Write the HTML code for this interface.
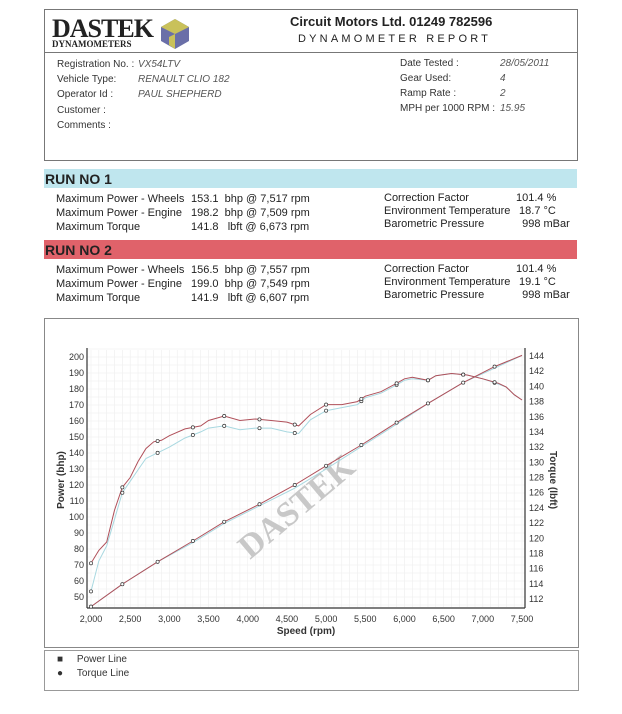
<!DOCTYPE html>
<html><head><meta charset="utf-8">
<style>
body{margin:0;width:622px;height:714px;background:#fff;position:relative;overflow:hidden;font-family:"Liberation Sans",sans-serif;color:#333}
.a{position:absolute;white-space:nowrap}
.s{font-size:10px}
.i{font-style:italic;color:#555}
.r{font-size:11px;color:#222}
</style></head><body>
<div class="a" style="left:44px;top:9px;width:532px;height:150px;border:1px solid #777"></div>
<div class="a" style="left:44px;top:52px;width:533px;border-top:1px solid #777"></div>
<div class="a" style="left:52px;top:16px;font-family:'Liberation Serif',serif;font-weight:bold;font-size:26px;color:#222;letter-spacing:-1px;line-height:26px">DASTEK</div>
<div class="a" style="left:52px;top:39px;font-family:'Liberation Serif',serif;font-weight:bold;font-size:9px;color:#222">DYNAMOMETERS</div>
<svg class="a" style="left:161px;top:19px" width="28" height="30"><polygon points="14,0 28,8 28,22 14,30 0,22 0,8" fill="#6a6fa8"/><polygon points="14,0 28,8 14,15 0,8" fill="#c9c15a"/><polygon points="14,15 14,30 8,26 8,18" fill="#c9c15a"/></svg>
<div class="a" style="left:290px;top:14px;font-size:13px;font-weight:bold;color:#222">Circuit Motors Ltd. 01249 782596</div>
<div class="a" style="left:298px;top:33px;font-size:11px;letter-spacing:3.2px;color:#222">DYNAMOMETER REPORT</div>
<div class="a s" style="left:57px;top:59px">Registration No. :</div>
<div class="a s i" style="left:138px;top:59px">VX54LTV</div>
<div class="a s" style="left:57px;top:74px">Vehicle Type:</div>
<div class="a s i" style="left:138px;top:74px">RENAULT CLIO 182</div>
<div class="a s" style="left:57px;top:89px">Operator Id :</div>
<div class="a s i" style="left:138px;top:89px">PAUL SHEPHERD</div>
<div class="a s" style="left:57px;top:105px">Customer :</div>
<div class="a s" style="left:57px;top:120px">Comments :</div>
<div class="a s" style="left:400px;top:58px">Date Tested :</div>
<div class="a s i" style="left:500px;top:58px">28/05/2011</div>
<div class="a s" style="left:400px;top:73px">Gear Used:</div>
<div class="a s i" style="left:500px;top:73px">4</div>
<div class="a s" style="left:400px;top:88px">Ramp Rate :</div>
<div class="a s i" style="left:500px;top:88px">2</div>
<div class="a s" style="left:400px;top:103px">MPH per 1000 RPM :</div>
<div class="a s i" style="left:500px;top:103px">15.95</div>

<div class="a" style="left:44px;top:169px;width:533px;height:19px;background:#bfe6ee"></div>
<div class="a" style="left:45px;top:171px;font-size:14px;font-weight:bold;color:#222">RUN NO 1</div>
<div class="a r" style="left:56px;top:192px;line-height:14px">Maximum Power - Wheels<br>Maximum Power - Engine<br>Maximum Torque</div>
<div class="a r" style="left:191px;top:192px;line-height:14px">153.1 &nbsp;bhp @ 7,517 rpm<br>198.2 &nbsp;bhp @ 7,509 rpm<br>141.8 &nbsp;&nbsp;lbft @ 6,673 rpm</div>
<div class="a r" style="left:384px;top:192px;line-height:13px">Correction Factor<br>Environment Temperature<br>Barometric Pressure</div>
<div class="a r" style="left:516px;top:192px;line-height:13px">101.4 %<br>&nbsp;18.7 °C<br>&nbsp;&nbsp;998 mBar</div>

<div class="a" style="left:44px;top:240px;width:533px;height:19px;background:#e0626a"></div>
<div class="a" style="left:45px;top:242px;font-size:14px;font-weight:bold;color:#222">RUN NO 2</div>
<div class="a r" style="left:56px;top:263px;line-height:14px">Maximum Power - Wheels<br>Maximum Power - Engine<br>Maximum Torque</div>
<div class="a r" style="left:191px;top:263px;line-height:14px">156.5 &nbsp;bhp @ 7,557 rpm<br>199.0 &nbsp;bhp @ 7,549 rpm<br>141.9 &nbsp;&nbsp;lbft @ 6,607 rpm</div>
<div class="a r" style="left:384px;top:263px;line-height:13px">Correction Factor<br>Environment Temperature<br>Barometric Pressure</div>
<div class="a r" style="left:516px;top:263px;line-height:13px">101.4 %<br>&nbsp;19.1 °C<br>&nbsp;&nbsp;998 mBar</div>

<div class="a" style="left:44px;top:318px;width:533px;height:328px;border:1px solid #888"></div>
<svg class="a" id="chart" style="left:0;top:0" width="622" height="714"></svg>

<div class="a" style="left:44px;top:650px;width:533px;height:39px;border:1px solid #999"></div>
<div class="a" style="left:57px;top:654px;font-size:10px">■&nbsp;&nbsp;&nbsp;&nbsp;&nbsp;Power Line</div>
<div class="a" style="left:57px;top:668px;font-size:10px">●&nbsp;&nbsp;&nbsp;&nbsp;&nbsp;Torque Line</div>

<script>
const rpmTicks=[2000,2500,3000,3500,4000,4500,5000,5500,6000,6500,7000,7500];
const powerTicks=[50,60,70,80,90,100,110,120,130,140,150,160,170,180,190,200];
const torqueTicks=[112,114,116,118,120,122,124,126,128,130,132,134,136,138,140,142,144];
const powerRpm=[2000,2400,2850,3300,3700,4150,4600,5000,5450,5900,6300,6750,7150,7500];
const powerRun2=[44,58,72,85,97,108,120,132,145,159,171,184,194,201];
const powerRun1=[44,58,72,84,96,107,118,130,144,158,171,184,193,201];
const torqueRpm=[2000,2100,2200,2300,2400,2500,2600,2700,2800,2900,3000,3200,3300,3400,3500,3700,3900,4100,4300,4500,4650,4800,5000,5200,5400,5500,5700,5900,6000,6100,6200,6300,6400,6600,6800,7000,7200,7300,7400,7500];
const torqueRun2=[116.7,118.4,119.5,123.7,126.7,128.0,130.1,131.8,132.7,132.9,133.5,134.4,134.6,134.8,135.5,136.1,135.5,135.7,135.5,135.3,134.8,136.3,137.6,137.6,138.0,138.7,139.3,140.4,141.0,141.2,141.0,140.8,141.4,141.7,141.5,141.0,140.4,139.9,138.9,138.2];
const torqueRun1=[113.0,117.0,119.0,122.5,126.0,127.5,129.0,130.5,131.0,131.5,132.0,133.2,133.6,134.0,134.5,134.8,134.3,134.5,134.5,134.0,133.8,135.6,136.8,137.2,137.6,138.5,139.1,140.2,140.8,141.0,140.9,140.8,141.4,141.7,141.5,141.0,140.3,139.9,138.9,138.2];
const markRpm=[2000,2400,2850,3300,3700,4150,4600,5000,5450,5900,6300,6750,7150];

const NS='http://www.w3.org/2000/svg';
const svg=document.getElementById('chart');
const X0=91,X1=522,YB=597,YT=357;
const x=r=>X0+(r-2000)*(X1-X0)/5500;
const yP=p=>YB-(p-50)*(YB-YT)/150;
const yT=t=>599-(t-112)*(599-356)/32;
function mk(tag,at,parent){const e=document.createElementNS(NS,tag);for(const k in at)e.setAttribute(k,at[k]);(parent||svg).appendChild(e);return e;}
function interp(xs,ys,v){for(let i=0;i<xs.length-1;i++){if(v>=xs[i]&&v<=xs[i+1]){const f=(v-xs[i])/(xs[i+1]-xs[i]);return ys[i]+f*(ys[i+1]-ys[i]);}}return ys[ys.length-1];}
for(let r=2000;r<=7500;r+=100){const g=mk('line',{x1:x(r),x2:x(r),y1:350,y2:607,stroke:'#eee','stroke-width':0.6});}
for(let p=45;p<=205;p+=5){const g=mk('line',{x1:87,x2:525,y1:yP(p),y2:yP(p),stroke:'#eee','stroke-width':0.6});}
let ax=mk('line',{x1:87,x2:87,y1:348,y2:608,stroke:'#333','stroke-width':1.2});
ax=mk('line',{x1:525,x2:525,y1:348,y2:608,stroke:'#333','stroke-width':1.2});
ax=mk('line',{x1:87,x2:525,y1:608,y2:608,stroke:'#333','stroke-width':1.2});
rpmTicks.forEach(r=>{const t=mk('text',{x:x(r),y:622,'font-size':9,'text-anchor':'middle',fill:'#333','font-family':'Liberation Sans'});t.textContent=r.toLocaleString('en-US');});
powerTicks.forEach(p=>{const t=mk('text',{x:84,y:yP(p)+3,'font-size':9,'text-anchor':'end',fill:'#333','font-family':'Liberation Sans'});t.textContent=p;});
torqueTicks.forEach(v=>{const t=mk('text',{x:529,y:yT(v)+3,'font-size':9,fill:'#333','font-family':'Liberation Sans'});t.textContent=v;});
let tt=mk('text',{x:306,y:634,'font-size':10,'font-weight':'bold','text-anchor':'middle',fill:'#333','font-family':'Liberation Sans'});tt.textContent='Speed (rpm)';
tt=mk('text',{x:0,y:0,'font-size':10,'font-weight':'bold','text-anchor':'middle',fill:'#333','font-family':'Liberation Sans',transform:'translate(64,480) rotate(-90)'});tt.textContent='Power (bhp)';
tt=mk('text',{x:0,y:0,'font-size':10,'font-weight':'bold','text-anchor':'middle',fill:'#333','font-family':'Liberation Sans',transform:'translate(550,480) rotate(90)'});tt.textContent='Torque (lbft)';
tt=mk('text',{x:0,y:0,'font-size':34,'font-weight':'bold',fill:'#c8c8c8','font-family':'Liberation Serif',transform:'translate(250,560) rotate(-40)'});tt.textContent='DASTEK';
function line(xs,ys,fy,color,w,name){const d=xs.map((r,i)=>(i?'L':'M')+x(r).toFixed(1)+','+fy(ys[i]).toFixed(1)).join('');const p=mk('path',{d:d,fill:'none',stroke:color,'stroke-width':w});}
line(torqueRpm,torqueRun1,yT,'#a8d8e0',1,'torque-run1-line');
line(powerRpm,powerRun1,yP,'#a8d8e0',1,'power-run1-line');
line(torqueRpm,torqueRun2,yT,'#b0505a',1,'torque-run2-line');
line(powerRpm,powerRun2,yP,'#b0505a',1,'power-run2-line');
markRpm.forEach(r=>{
 [[torqueRpm,torqueRun1,yT],[torqueRpm,torqueRun2,yT]].forEach(s=>{const c=mk('circle',{cx:x(r),cy:s[2](interp(s[0],s[1],r)),r:1.6,fill:'#fff',stroke:'#333','stroke-width':0.7});});
 [[powerRpm,powerRun2,yP]].forEach(s=>{const c=mk('circle',{cx:x(r),cy:s[2](interp(s[0],s[1],r)),r:1.6,fill:'#fff',stroke:'#333','stroke-width':0.7});});
});
</script>
</body></html>
